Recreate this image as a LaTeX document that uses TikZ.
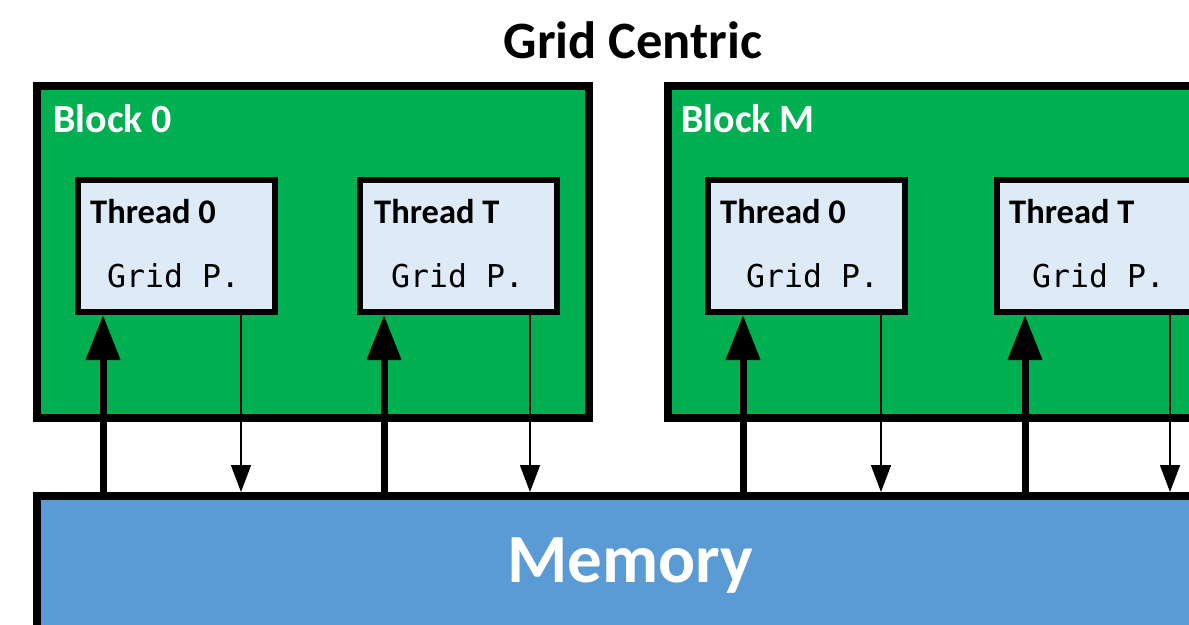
\documentclass[tikz,border=0pt]{standalone}
\usepackage{fontspec}
\newfontfamily\carlito{Carlito}
\newfontfamily\monofnt{DejaVu Sans Mono}
\usetikzlibrary{arrows.meta}
\definecolor{blockgreen}{HTML}{00B050}
\definecolor{memblue}{HTML}{5B9BD5}
\definecolor{threadfill}{HTML}{DEEBF7}
\tikzset{
  blockbox/.style={draw=black, line width=8pt, fill=blockgreen, inner sep=0pt, outer sep=0pt, anchor=north west, minimum height=332pt},
  threadbox/.style={draw=black, line width=6pt, fill=threadfill, inner sep=0pt, outer sep=0pt, anchor=north west, minimum width=197pt, minimum height=132pt},
  membox/.style={draw=black, line width=8pt, fill=memblue, inner sep=0pt, outer sep=0pt, anchor=north west, minimum width=1300pt, minimum height=200pt},
  blocklabel/.style={anchor=base west, inner sep=0pt, text=white, font=\carlito\bfseries\fontsize{40}{44}\selectfont},
  threadlabel/.style={anchor=base west, inner sep=0pt, text=black, font=\carlito\bfseries\fontsize{34.5}{38}\selectfont},
  gridlabel/.style={anchor=base west, inner sep=0pt, text=black, font=\monofnt\fontsize{31.5}{34}\selectfont},
  readarrow/.style={line width=7pt, -{Triangle[width=33pt,length=45pt]}},
  writearrow/.style={line width=1.6pt, -{Triangle[width=20pt,length=27pt]}},
}
\begin{document}
\begin{tikzpicture}[x=1pt,y=-1pt]
\useasboundingbox (0,0) rectangle (1189,624);
\clip (0,0) rectangle (1189,624);
\fill[white] (0,0) rectangle (1189,624);

% title
\node[anchor=base, inner sep=0pt, font=\carlito\bfseries\fontsize{52.5}{58}\selectfont] (title) at (633,58) {Grid Centric};

% blocks
\node[blockbox, minimum width=552pt] (b0) at (37,86) {};
\node[blockbox, minimum width=600pt] (bm) at (668,86) {};
\node[blocklabel] (b0l) at (53,132) {Block 0};
\node[blocklabel] (bml) at (681,132) {Block M};

% threads
\node[threadbox] (t00) at (78,180) {};
\node[threadbox] (t0t) at (360,180) {};
\node[threadbox] (tm0) at (708,180) {};
\node[threadbox] (tmt) at (997,180) {};

\node[threadlabel] (t00l) at (90,223) {Thread 0};
\node[threadlabel] (t0tl) at (374,223) {Thread T};
\node[threadlabel] (tm0l) at (720,223) {Thread 0};
\node[threadlabel] (tmtl) at (1009,223) {Thread T};

\node[gridlabel] (t00g) at (107,287) {Grid P.};
\node[gridlabel] (t0tg) at (391,287) {Grid P.};
\node[gridlabel] (tm0g) at (746,287) {Grid P.};
\node[gridlabel] (tmtg) at (1032,287) {Grid P.};

% memory
\node[membox] (mem) at (37,496) {};
\node[anchor=base, inner sep=0pt, text=white, font=\carlito\bfseries\fontsize{69}{74}\selectfont] (meml) at (630,582) {Memory};

% connector end points on the thread boxes
\coordinate (r00) at (103,315);
\coordinate (w00) at (241,315);
\coordinate (r0t) at (384,315);
\coordinate (w0t) at (530,315);
\coordinate (rm0) at (743,315);
\coordinate (wm0) at (881,315);
\coordinate (rmt) at (1025,315);
\coordinate (wmt) at (1170,315);

\foreach \c in {r00,r0t,rm0,rmt} {
  \draw[readarrow] (mem.north -| \c) -- (\c);
}
\foreach \c in {w00,w0t,wm0,wmt} {
  \draw[writearrow] (\c) -- ([yshift=4pt]mem.north -| \c);
}
\end{tikzpicture}
\end{document}
